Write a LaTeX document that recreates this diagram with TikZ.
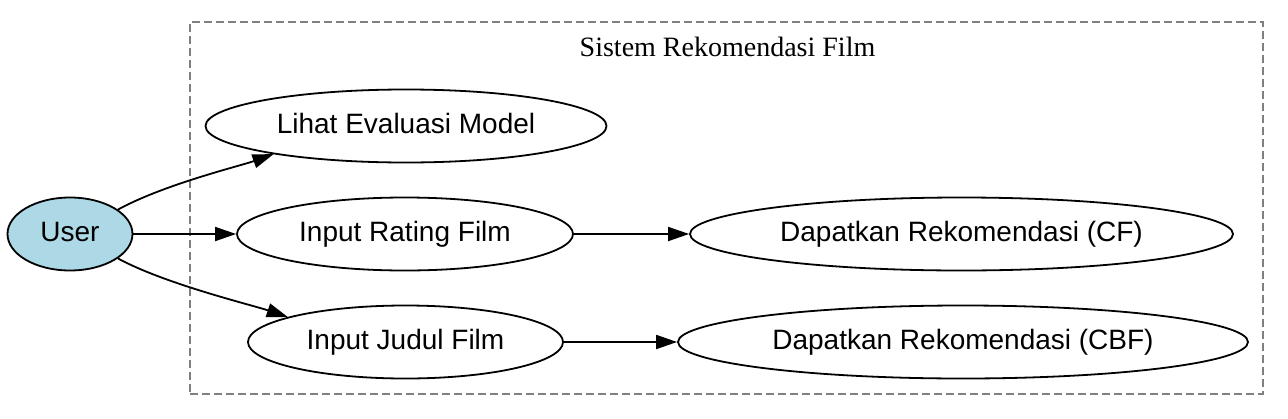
\documentclass[tikz,border=0pt]{standalone}
\usepackage{fontspec}
\setmainfont{Liberation Sans}
\newfontfamily\titlefont{Liberation Serif}
\usetikzlibrary{shapes.geometric,arrows.meta}
\definecolor{userblue}{HTML}{ADD8E6}
\begin{document}
\begin{tikzpicture}[x=1pt,y=-1pt,
  uc/.style={ellipse,draw=black,line width=1.8pt,inner sep=0pt,
    font=\fontsize{28}{34}\selectfont,text height=20pt,text depth=6pt,
    minimum height=73pt},
  arr/.style={line width=1.8pt,-{Triangle[length=21pt,width=14pt]}},
  sysbox/.style={draw=gray,dash pattern=on 8pt off 4pt,line width=1.6pt,
    inner sep=0pt,minimum width=1073pt,minimum height=372pt},
]
\useasboundingbox (0,0) rectangle (1288,418);
\node[sysbox] (sys) at (726.5,208) {};
\node[anchor=base,font=\titlefont\fontsize{28}{34}\selectfont] (title) at (727.5,56) {Sistem Rekomendasi Film};

\node[uc,fill=userblue,minimum width=125pt] (user) at (70,234) {User};
\node[uc,minimum width=401pt] (lihat) at (406,126) {Lihat Evaluasi Model};
\node[uc,minimum width=336pt] (rating) at (405,234) {Input Rating Film};
\node[uc,minimum width=315pt] (judul) at (405.5,342) {Input Judul Film};
\node[uc,minimum width=543pt] (cf) at (961.5,234) {Dapatkan Rekomendasi (CF)};
\node[uc,minimum width=570pt] (cbf) at (963,342) {Dapatkan Rekomendasi (CBF)};

\draw[arr] (user.27) .. controls (165,184) and (240,166) .. (lihat.192);
\draw[arr] (user.east) -- (rating.west);
\draw[arr] (user.-27) .. controls (165,284) and (252,305) .. (judul.168);
\draw[arr] (rating.east) -- (cf.west);
\draw[arr] (judul.east) -- (cbf.west);
\end{tikzpicture}
\end{document}
